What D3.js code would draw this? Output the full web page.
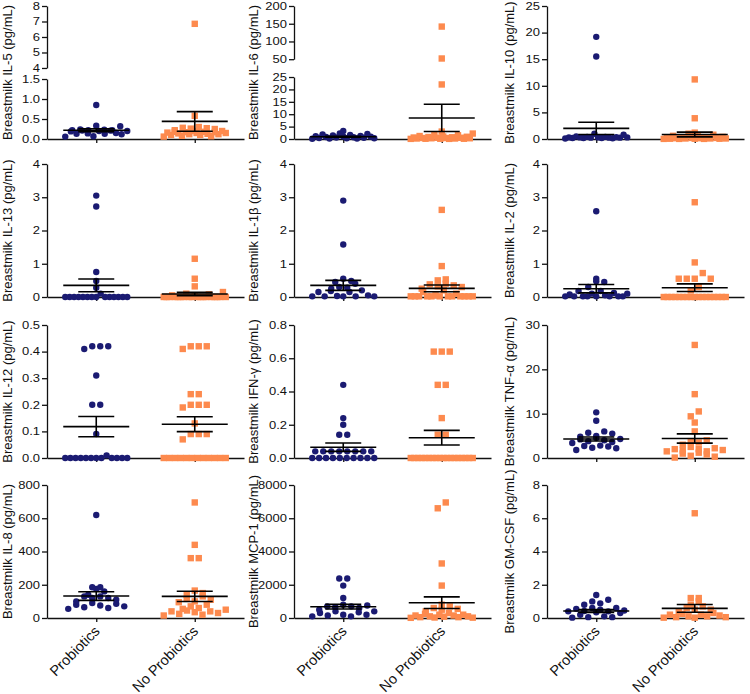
<!DOCTYPE html>
<html><head><meta charset="utf-8">
<script src="https://cdn.jsdelivr.net/npm/d3@7"></script>
<style>body{margin:0;background:#fff} text{font-family:"Liberation Sans",Arial,sans-serif;fill:#111}</style>
</head><body><svg id="c" width="750" height="694"></svg>
<script>
// ---------- data ----------
const groups = ["Probiotics", "No Probiotics"];
const cytokines = ["IL-5","IL-6","IL-10","IL-13","IL-1β","IL-2","IL-12","IFN-γ","TNF-α","IL-8","MCP-1","GM-CSF"];

const il5Pro = [0.85,0.33,0.32,0.24,0.23,0.22,0.22,0.22,0.21,0.21,0.2,0.2,0.19,0.15,0.14,0.13,0.13,0.12,0.07,0.06];
const il5No  = [6.85,0.58,0.3,0.28,0.27,0.26,0.25,0.22,0.2,0.2,0.18,0.18,0.17,0.17,0.16,0.15,0.15,0.14,0.13,0.12,0.12,0.1,0.1,0.08,0.07,0.06];
const il6Pro = [3.2,2.2,2.0,1.8,1.6,1.4,1.2,1.1,1.0,0.9,0.8,0.7,0.6,0.5,0.4,0.3,0.3,0.2,0.2,0.1];
const il6No  = [142,52,22,3.0,2.2,1.8,1.5,1.2,1.0,0.9,0.8,0.7,0.6,0.5,0.5,0.4,0.4,0.3,0.3,0.2,0.2,0.1,0.1,0.1,0.05,0.05];
const il10Pro = [19.2,15.5,1.0,0.8,0.5,0.4,0.4,0.35,0.3,0.3,0.3,0.3,0.25,0.25,0.25,0.2,0.2,0.2,0.15,0.1];
const il10No  = [11.2,3.9,1.2,1.0,0.8,0.6,0.5,0.4,0.3,0.3,0.25,0.2,0.2,0.15,0.15,0.1,0.1,0.1,0.05,0.05,0.05,0.02,0.02,0.02];
const il13Pro = [3.05,2.72,0.75,0.48,0.28,0.1,0,0,0,0,0,0,0,0,0,0,0,0,0,0];
const il13No  = [1.15,0.55,0.32,0.15,0.1,0.08,0.05,0.03,0,0,0,0,0,0,0,0,0,0,0,0,0,0,0,0,0,0];
const il1bPro = [2.9,1.58,0.55,0.48,0.45,0.4,0.3,0.28,0.25,0.2,0.18,0.15,0.15,0.05,0.03,0.02,0.02,0.02,0.02,0.02];
const il1bNo  = [2.62,0.93,0.53,0.5,0.4,0.38,0.35,0.32,0.3,0.25,0.2,0.15,0.1,0.05,0.02,0.02,0.02,0.02,0.02,0.02,0.02,0.02,0.02,0.02,0.02,0.02];
const il2Pro = [2.58,0.55,0.47,0.45,0.3,0.18,0.18,0.12,0.1,0.1,0.08,0.05,0.02,0.02,0.02,0.02,0.02,0.02,0.02,0.02];
const il2No  = [2.85,1.04,0.72,0.55,0.55,0.55,0.55,0.3,0.2,0,0,0,0,0,0,0,0,0,0,0,0,0,0,0,0,0];
const il12Pro = [0.42,0.42,0.42,0.41,0.31,0.2,0.2,0.09,0.01,0,0,0,0,0,0,0,0,0,0,0,0];
const il12No  = [0.42,0.42,0.42,0.41,0.24,0.24,0.2,0.2,0.2,0.19,0.13,0.09,0.09,0.09,0.07,0,0,0,0,0,0,0,0,0,0,0,0];
const ifnPro = [0.44,0.24,0.2,0.14,0.14,0.04,0.04,0.04,0.04,0.04,0.04,0.04,0.04,0,0,0,0,0,0,0,0,0,0];
const ifnNo  = [0.64,0.64,0.64,0.44,0.44,0.24,0.14,0.14,0,0,0,0,0,0,0,0,0,0,0,0,0,0,0,0,0,0];
const tnfPro = [10.3,8.4,6.0,5.7,5.5,5.0,4.8,4.5,4.3,4.2,4.0,3.8,3.6,3.4,2.8,2.7,2.6,2.3,2.2,1.8];
const tnfNo  = [25.5,14.4,10.5,9.4,8.0,6.0,4.0,3.8,3.5,3.0,2.5,2.2,2.0,2.0,1.8,1.7,1.5,1.5,1.2,1.0,0.8,0.5,0.3,0.1];
const il8Pro = [620,185,185,175,160,140,130,130,120,120,110,100,90,85,80,75,70,65,60,55];
const il8No  = [695,440,360,360,165,150,140,130,115,110,100,95,80,70,60,55,50,45,40,40,35,30,25,20,15];
const mcpPro = [2380,2380,1950,1200,800,750,700,700,650,600,500,400,400,350,300,200,200,150,100,100];
const mcpNo  = [6950,6600,3280,1950,800,700,600,550,500,400,300,250,200,200,150,150,100,100,80,50,50,30,20,10];
const gmPro = [1.38,1.1,1.0,0.88,0.8,0.6,0.6,0.55,0.5,0.45,0.42,0.4,0.4,0.35,0.3,0.2,0.1,0.05,0.05,0.02];
const gmNo  = [6.3,1.2,1.2,1.0,0.8,0.7,0.6,0.5,0.5,0.4,0.3,0.25,0.2,0.2,0.15,0.1,0.1,0.05,0.05,0.02,0.02];

// mean and SEM per panel: [Probiotics, No Probiotics]
const means = [[0.22,0.44],[0.9,8.5],[2.0,0.85],[0.35,0.09],[0.35,0.26],[0.25,0.28],[0.118,0.127],[0.065,0.122],[4.3,4.4],[132,130],[680,920],[0.42,0.58]];
const sems  = [[0.035,0.245],[0.2,5.5],[1.15,0.45],[0.19,0.05],[0.15,0.1],[0.125,0.115],[0.038,0.028],[0.025,0.044],[0.45,1.05],[26,31],[140,350],[0.09,0.23]];

// tick values
const ticksIL5Low = [0,0.5,1.0,1.5], ticksIL5High = [4,5,6,7,8];
const ticksIL6Low = [0,5,10,15,20,25], ticksIL6High = [50,100,150,200];
const ticksIL10 = [0,5,10,15,20,25];
const ticksIL13 = [0,1,2,3,4];
const ticksIL1b = [0,1,2,3,4];
const ticksIL2 = [0,1,2,3,4];
const ticksIL12 = [0,0.1,0.2,0.3,0.4,0.5];
const ticksIFN = [0,0.2,0.4,0.6,0.8];
const ticksTNF = [0,10,20,30];
const ticksIL8 = [0,200,400,600,800];
const ticksMCP = [0,2000,4000,6000,8000];
const ticksGM = [0,2,4,6,8];

// ---------- build panel table ----------
const seriesPro = [il5Pro,il6Pro,il10Pro,il13Pro,il1bPro,il2Pro,il12Pro,ifnPro,tnfPro,il8Pro,mcpPro,gmPro];
const seriesNo  = [il5No,il6No,il10No,il13No,il1bNo,il2No,il12No,ifnNo,tnfNo,il8No,mcpNo,gmNo];
const tickSets = [null,null,ticksIL10,ticksIL13,ticksIL1b,ticksIL2,ticksIL12,ticksIFN,ticksTNF,ticksIL8,ticksMCP,ticksGM];
const fmts = [".1f","d","d","d","d","d",".1f",".1f","d","d","d","d"];
const broken = {0:{low:ticksIL5Low, high:ticksIL5High, lowFrac:0.451, highFrac:0.534, lowFmt:".1f", highFmt:"d"},
                1:{low:ticksIL6Low, high:ticksIL6High, lowFrac:0.466, highFrac:0.6, lowFmt:"d", highFmt:"d"}};

// ---------- layout ----------
const colX = [47, 294, 547], axisW = 197;
const rowTop = [6, 164, 325, 485], rowBot = [139, 297, 458, 618];
const labelX = [12, 258, 514];
const NAVY = "#1b1b72", ORANGE = "#fd8a4e";

const svg = d3.select("#c");

// GraphPad-like scatter rows: points within one symbol height share a row
function layoutRows(vals, yOf, cx) {
  const pts = vals.map(v => ({v, y: yOf(v)})).sort((a,b) => b.y - a.y);
  const rows = []; let cur = null;
  pts.forEach(p => { if (!cur || Math.abs(p.y - cur[0].y) > 6) { cur = [p]; rows.push(cur); } else cur.push(p); });
  rows.forEach(r => {
    const k = r.length; const s = k > 1 ? Math.min(8, 62/(k-1)) : 0;
    r.sort((a,b) => a.v - b.v);
    const order = d3.range(k).sort((a,b) => ((a*0.618)%1) - ((b*0.618)%1));
    r.forEach((p,j) => p.x = cx + (order[j] - (k-1)/2) * s);
  });
  return pts;
}

function styleAxis(a) {
  a.selectAll("text").attr("font-size", 13).attr("x", -7).attr("transform", "scale(1,0.8)");
  a.selectAll("path,line").attr("stroke", "#111").attr("stroke-width", 1.3);
}

cytokines.forEach((name, i) => {
  const col = i % 3, row = Math.floor(i / 3);
  const x0 = colX[col], x1 = x0 + axisW, top = rowTop[row], bot = rowBot[row];
  const g = svg.append("g");
  const x = d3.scalePoint().domain(groups).range([x0, x1]).padding(0.5);
  let yOf;
  const H = bot - top;
  if (broken[i]) {
    const b = broken[i];
    const lowMax = b.low[b.low.length-1];
    const yl = d3.scaleLinear().domain([0, lowMax]).range([bot, bot - H*b.lowFrac]);
    const yh = d3.scaleLinear().domain([b.high[0], b.high[b.high.length-1]]).range([bot - H*b.highFrac, top]);
    yOf = v => v > lowMax ? yh(v) : yl(v);
    [[yl,b.low,b.lowFmt],[yh,b.high,b.highFmt]].forEach(([s,t,f]) => {
      g.append("g").attr("transform", `translate(${x0},0)`)
        .call(d3.axisLeft(s).tickValues(t).tickFormat(d3.format(f)).tickSize(5).tickSizeOuter(0))
        .call(styleAxis);
    });
  } else {
    const t = tickSets[i];
    const y = d3.scaleLinear().domain([0, t[t.length-1]]).range([bot, top]);
    yOf = y;
    g.append("g").attr("transform", `translate(${x0},0)`)
      .call(d3.axisLeft(y).tickValues(t).tickFormat(d3.format(fmts[i])).tickSize(5).tickSizeOuter(0))
      .call(styleAxis);
  }
  // x axis
  const xa = g.append("g").attr("transform", `translate(0,${bot})`)
    .call(d3.axisBottom(x).tickSize(4).tickSizeOuter(0))
    .call(a => a.selectAll("path,line").attr("stroke", "#111").attr("stroke-width", 1.3));
  if (row === 3) {
    xa.selectAll("text").attr("font-size", 14.5).attr("text-anchor", "end")
      .attr("x", 0).attr("y", 0).attr("dy", 0)
      .attr("transform", "translate(4,14) rotate(-45)");
  } else xa.selectAll("text").remove();

  // y label
  g.append("text").attr("transform", `translate(${labelX[col]},${(top+bot)/2}) rotate(-90)`)
    .attr("text-anchor", "middle").attr("font-size", 13)
    .text(`Breastmilk ${name} (pg/mL)`);

  // points
  const pro = layoutRows(seriesPro[i], yOf, x(groups[0]));
  const no = layoutRows(seriesNo[i], yOf, x(groups[1]));
  g.selectAll("circle.p").data(pro).join("circle").attr("class","p")
    .attr("cx", d => d.x).attr("cy", d => d.y).attr("r", 3.2).attr("fill", NAVY);
  g.selectAll("rect.n").data(no).join("rect").attr("class","n")
    .attr("x", d => d.x - 3.2).attr("y", d => d.y - 3.2).attr("width", 6.4).attr("height", 6.4).attr("fill", ORANGE);

  // mean ± SEM
  groups.forEach((gr, k) => {
    const cx = x(gr), m = means[i][k], s = sems[i][k];
    const ym = yOf(m), yu = yOf(m + s), yd = yOf(Math.max(0, m - s));
    const st = l => l.attr("stroke", "#000").attr("stroke-width", 1.6);
    g.append("line").attr("x1", cx-33).attr("x2", cx+33).attr("y1", ym).attr("y2", ym).call(st);
    g.append("line").attr("x1", cx-18).attr("x2", cx+18).attr("y1", yu).attr("y2", yu).call(st);
    g.append("line").attr("x1", cx-18).attr("x2", cx+18).attr("y1", yd).attr("y2", yd).call(st);
    g.append("line").attr("x1", cx).attr("x2", cx).attr("y1", yu).attr("y2", yd).call(st);
  });
});
</script></body></html>
